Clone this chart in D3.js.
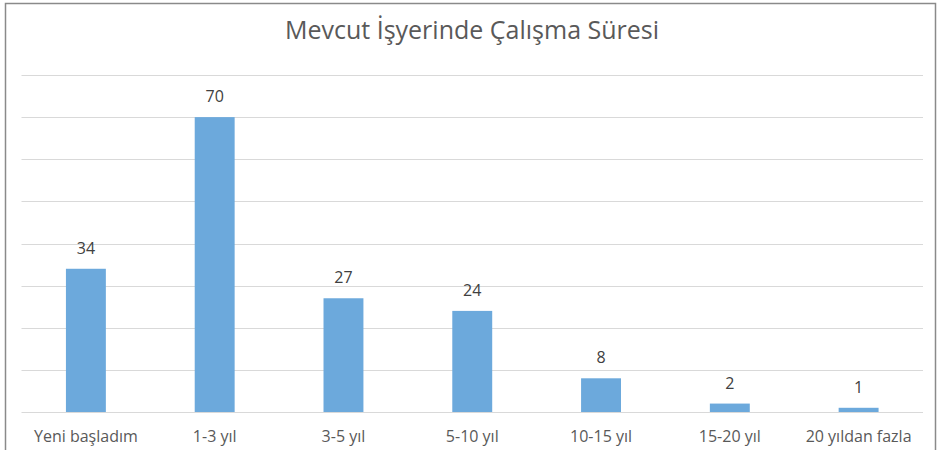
<!DOCTYPE html>
<html>
<head>
<meta charset="utf-8">
<script src="https://cdn.jsdelivr.net/npm/d3@7"></script>
<style>
	body { margin: 0; background: #fff; }
	text { font-family: "Open Sans", "Noto Sans", sans-serif; }
</style>
</head>
<body>
<svg width="943" height="450"></svg>
<script>
// chart values
var categories = ["Yeni başladım", "1-3 yıl", "3-5 yıl", "5-10 yıl", "10-15 yıl", "15-20 yıl", "20 yıldan fazla"];
var values = [34, 70, 27, 24, 8, 2, 1];
var yTicks = [0, 10, 20, 30, 40, 50, 60, 70, 80];
var title = "Mevcut İşyerinde Çalışma Süresi";

var svg = d3.select("svg");

// outer frame
svg.append("rect")
	.attr("x", 5.5).attr("y", 3.5)
	.attr("width", 930).attr("height", 460)
	.attr("fill", "#fff")
	.attr("stroke", "#8a8a8a")
	.attr("stroke-width", 1.5);

var x = d3.scaleBand()
	.domain(categories)
	.range([21.5, 923])
	.padding(0);

var y = d3.scaleLinear()
	.domain([0, 80])
	.range([412, 75]);

// gridlines
svg.append("g").selectAll("line")
	.data(yTicks)
	.enter().append("line")
	.attr("x1", 21.5).attr("x2", 923)
	.attr("y1", function (d) { return Math.round(y(d)) + 0.5; })
	.attr("y2", function (d) { return Math.round(y(d)) + 0.5; })
	.attr("stroke", "#d9d9d9")
	.attr("stroke-width", 1);

var barW = x.bandwidth() * 0.31;

svg.append("g").selectAll("rect")
	.data(values)
	.enter().append("rect")
	.attr("x", function (d, i) { return x(categories[i]) + x.bandwidth() / 2 - barW / 2; })
	.attr("y", function (d) { return y(d); })
	.attr("width", barW)
	.attr("height", function (d) { return y(0) - y(d); })
	.attr("fill", "#6ca9dc");

// value labels
svg.append("g").selectAll("text")
	.data(values)
	.enter().append("text")
	.attr("x", function (d, i) { return x(categories[i]) + x.bandwidth() / 2; })
	.attr("y", function (d) { return y(d) - 15; })
	.attr("text-anchor", "middle")
	.attr("font-size", "16px")
	.attr("fill", "#404040")
	.text(function (d) { return d; });

// category axis
var xAxis = svg.append("g")
	.attr("transform", "translate(0,412)")
	.call(d3.axisBottom(x).tickSize(0).tickPadding(19));
xAxis.select(".domain").remove();
xAxis.selectAll("text")
	.attr("font-family", "\"Open Sans\", sans-serif")
	.attr("font-size", "16px")
	.attr("fill", "#595959");

// title
svg.append("text")
	.attr("x", 472)
	.attr("y", 39)
	.attr("text-anchor", "middle")
	.attr("font-size", "25px")
	.attr("fill", "#595959")
	.text(title);
</script>
</body>
</html>
